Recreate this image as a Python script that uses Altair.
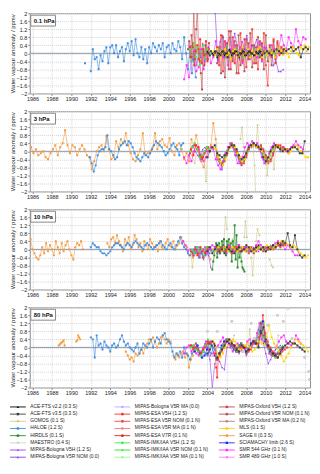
import altair as alt
import pandas as pd

# ---------------- legend / series definitions ----------------
KEYS = ["ACE22", "ACE35", "GOMOS", "HALOE", "HIRDLS", "MAESTRO", "BOL5H", "BOL5R", "BOLMA",
        "ESA5H", "ESA5R", "ESAMA", "ESA7R", "IMK5H", "IMK5R", "IMKMA", "OXF5H", "OXF5R", "OXFMA",
        "MLS", "SAGE", "SCIA", "SMR544", "SMR489"]
NAMES = ["ACE-FTS v2.2 (0.3 S)", "ACE-FTS v3.5 (0.3 S)", "GOMOS (0.1 S)", "HALOE (1.2 S)",
         "HIRDLS (0.1 S)", "MAESTRO (0.4 S)", "MIPAS-Bologna V5H (1.2 S)", "MIPAS-Bologna V5R NOM (0.0)",
         "MIPAS-Bologna V5R MA (0.0)", "MIPAS-ESA V5H (1.2 S)", "MIPAS-ESA V5R NOM (0.1 N)",
         "MIPAS-ESA V5R MA (0.1 N)", "MIPAS-ESA V7R (0.1 N)", "MIPAS-IMK/IAA V5H (1.2 S)",
         "MIPAS-IMK/IAA V5R NOM (0.1 N)", "MIPAS-IMK/IAA V5R MA (0.1 N)", "MIPAS-Oxford V5H (1.2 S)",
         "MIPAS-Oxford V5R NOM (0.1 N)", "MIPAS-Oxford V5R MA (0.2 N)", "MLS (0.1 S)", "SAGE II (0.3 S)",
         "SCIAMACHY limb (2.6 S)", "SMR 544 GHz (0.1 N)", "SMR 489 GHz (1.0 S)"]
COLORS = ["#000000", "#3a3a3a", "#d2c98e", "#3f8ee0", "#268a26", "#cfcfcf", "#a040f0", "#8a3cf0",
          "#c9a2ff", "#ff2a2a", "#ff3c3c", "#ff7070", "#e82020", "#3cf03c", "#2ee02e", "#8cff8c",
          "#c44848", "#b05454", "#c27a7a", "#ffd400", "#f59a3c", "#2a2ae0", "#ff2cff", "#ff7cff"]
SHAPES = ["triangle-up", "square", "circle", "square", "square", "circle", "triangle-up", "triangle-up",
          "circle", "square", "square", "circle", "square", "square", "triangle-up", "circle",
          "square", "square", "circle", "square", "square", "square", "square", "circle"]
FULL = dict(zip(KEYS, NAMES))

PANELS = ["0.1 hPa", "3 hPa", "10 hPa", "80 hPa"]
YEAR_TICKS = [1986, 1988, 1990, 1992, 1994, 1996, 1998, 2000, 2002, 2004, 2006, 2008, 2010, 2012, 2014]
Y_TICKS = [-2, -1.6, -1.2, -0.8, -0.4, 0, 0.4, 0.8, 1.2, 1.6, 2]

# ---------------- data: regular segments (panel, series, start year, step, values) ----------------
REG = [
    # ---- 0.1 hPa ----
    ("0.1 hPa", "HALOE", 1992.0, 0.2, [-0.9, 0.2, -0.3, -0.2, -0.8, -0.1, -0.4, 0.1, 0.3, -0.5, 0.3, 0.4, 0.0, 0.4, -0.2,
                                       0.1, 0.3, -0.4, 0.2, 0.5, 0.1, 0.6, -0.1, 0.7, 0.0, -0.2, 0.3, -0.3, 0.2, -0.5, 0.3,
                                       0.0, 0.5, 0.3, 0.1, 0.4, 0.2, 0.5, -0.2, 0.3, 0.4, 0.0, 0.5, 0.2, 0.1, 0.6, 0.3, -0.3,
                                       0.8, 0.0, -0.8, 0.2, -1.0, -0.3, -1.2]),
    ("0.1 hPa", "SMR544", 2001.6, 0.25, [-1.3, -0.6, -1.2, -0.4, 0.1, -0.9, -0.7, 0.2, -0.8, -0.3, 0.3, -0.5, -0.2, 0.6,
                                         -0.4, 0.3, -0.2, 0.5, -0.6, 0.2, -0.3, 0.4, -0.1, 0.3, -0.5, 0.2, 0.1, -0.3, 0.4,
                                         0.0, -0.2, 0.5, -0.4, 0.3, 0.1, -0.1, 0.4, 0.2, -0.2, 0.3, 0.9, 0.4, 0.2, 0.8, 0.5,
                                         0.3, 1.2, 0.6, 0.4, 0.8, 0.7]),
    ("0.1 hPa", "OXF5H", 2002.0, 0.12, [0.2, 0.6, -0.2, 0.9, 0.3, 2.3, -0.3, 1.2, 2.3, 0.2, -0.4, -1.0, -1.8, 0.1, -0.6,
                                        0.4, 0.0, -0.3, 0.5]),
    ("0.1 hPa", "OXF5R", 2005.0, 0.2, [-0.5, 0.3, -1.0, 0.8, -1.2, 0.5, -0.8, 1.1, -0.4, 0.6, -1.0, 0.9, -0.6, 0.2, -0.9,
                                       0.7, -0.3, 1.0, -0.7, 0.4, -0.5, 0.8, -0.2, 0.5, -0.8, 0.9, -0.4, 0.3, -0.6, 0.6,
                                       -0.3, 0.5, 0.1, 0.3, 0.0]),
    ("0.1 hPa", "BOL5H", 2002.3, 0.2, [0.4, -0.3, 0.2, -0.6, 0.1, -0.2, 0.5, -0.4, 0.0, 0.3]),
    ("0.1 hPa", "BOL5R", 2004.8, 0.25, [2.0, -0.3, 0.6, 0.9, -0.2, 0.5, 0.8, 0.0, 1.0, 0.4, -0.3, 0.6, 0.2, 0.9, -0.1, 0.4,
                                        0.3, 0.7, -0.2, 0.5, 0.1, 0.3, 0.0, 0.2, -0.6, -0.4, -0.9, -0.9, -0.8]),
    ("0.1 hPa", "ESA5H", 2002.2, 0.15, [0.3, -0.2, 0.5, -0.6, 0.1, 0.4, -0.3, 0.7, -0.5, 0.2, -0.1, 0.6, -0.4, 0.2]),
    ("0.1 hPa", "ESA5R", 2005.0, 0.2, [0.3, -0.6, 0.9, -0.9, 0.6, -0.2, 1.1, -0.8, 0.8, -0.5, 0.4, -1.0, 1.0, -0.4, 0.7,
                                       -0.7, 0.5, -0.2, 1.2, -0.5, 0.3, -0.8, 0.6, -0.3, 1.0, -0.6, -1.6, 0.4, -0.2, 0.7,
                                       -0.5, 0.6, -0.1, 0.3, 0.1]),
    ("0.1 hPa", "IMK5H", 2002.2, 0.2, [0.2, -0.4, 0.5, -0.2, 0.3, -0.6, 0.1, 0.4, -0.3, 0.2, 0.0]),
    ("0.1 hPa", "IMK5R", 2005.0, 0.25, [-0.2, 0.3, 0.1, -0.3, 0.4, 0.0, -0.2, 0.2, 0.3, -0.1, 0.1, -0.3, 0.2, 0.0, -0.2,
                                        0.3, 0.1, -0.1, 0.2, 0.0, -0.2, 0.1, 0.3, 0.0, -0.1, 0.2, 0.1, 0.0]),
    ("0.1 hPa", "MLS", 2004.6, 0.2, [0.1, -0.1, 0.2, 0.0, -0.2, 0.1, 0.2, -0.1, 0.0, -0.3, 0.1, 0.2, 0.0, -0.2, 0.1, 0.3,
                                     -0.1, 0.0, 0.2, -0.2, 0.1, 0.0, -0.1, 0.2, 0.3, -0.2, 0.0, 0.1, -0.1, 0.2, 0.0, 0.1,
                                     -0.2, 0.2, 0.3, 0.1, -0.1, 0.2, 0.0, -0.2, 0.1, 0.3, 0.2, 0.0, -0.1, 0.3, 0.2, 0.4,
                                     0.1, 0.3]),
    ("0.1 hPa", "ACE22", 2004.0, 0.25, [0.1, -0.1, 0.0, 0.1, -0.2, 0.0, 0.1, -0.1, 0.0, 0.2, -0.1, 0.0, 0.1, -0.2, 0.0,
                                        0.1, -0.1, 0.1, 0.0, -0.1, 0.1, 0.0, 0.1]),
    ("0.1 hPa", "ACE35", 2004.1, 0.25, [0.0, 0.1, -0.1, 0.1, 0.0, -0.1, 0.1, 0.0, -0.2, 0.1, 0.0, 0.1, -0.1, 0.0, 0.1,
                                        -0.1, 0.0, 0.1, 0.0, -0.1, 0.0, 0.1, -0.1, 0.0, 0.1, 0.0, -0.1, 0.1, 0.2, 0.1, 0.0,
                                        0.2, 0.1, 0.2, 0.3, 0.1, 0.2, 0.3, -0.2, 0.2, 0.3, 0.2]),
    # ---- 3 hPa ----
    ("3 hPa", "SAGE", 1985.6, 0.25, [0.25, 0.2, -0.1, 0.1, -0.2, -0.1, 0.0, -0.3, -0.4, -0.1, 0.1, 0.3, -0.2, 0.2, 0.4,
                                     1.05, 0.3, -0.1, 0.3, 0.2, -0.2, 0.1, 0.3, 0.1, -0.2, -0.3, -0.9, -0.5, 0.0, 0.2,
                                     0.3, 0.0, 0.75, 0.1, -0.4, -0.3, 0.5, 0.2, 0.6, 0.4, 0.9, 0.3, -0.1, -0.4, -0.5,
                                     -0.2, 0.1, 0.9, -0.2, -0.1, 0.0, 0.2, 0.9, 0.1, 0.5, 0.6, 0.3, 0.2, 0.65, 0.0, -0.2,
                                     0.3, 0.4, 0.1, -0.4, -0.1, -0.5, 0.6, 0.3, 0.8, 0.2, -0.5, -0.8, -0.3, 0.1, 0.3, 1.4,
                                     0.6, -0.3]),
    ("3 hPa", "HALOE", 1991.9, 0.2, [-0.3, -0.6, -1.0, -0.7, -0.2, 0.0, 0.1, 0.1, 0.2, 0.8, 0.1, 0.0, -0.2, -0.4, -0.3,
                                     0.1, 0.3, 0.4, 0.5, 0.3, 0.5, 0.4, 0.2, -0.1, -0.3, -0.4, -0.5, -0.3, -0.1, -0.2,
                                     -0.3, -0.1, 0.1, 0.3, 0.5, 0.4, 0.3, 0.2, 0.0, -0.2, -0.1, 0.1, 0.3, 0.4, 0.2, 0.1,
                                     -0.2, 0.3, 0.4]),
    ("3 hPa", "SMR544", 2001.6, 0.25, [-0.3, -0.6, -0.2, -0.5, 0.0, 0.3, 0.1, -0.2, -0.5, -0.3, 0.0, 0.2, 0.1, -0.4, -0.7,
                                       -0.9, -0.5, -0.1, 0.2, 0.4, 0.2, -0.2, -0.6, -0.6, -0.3, 0.2, 0.4, 0.3, 0.5, 0.3,
                                       0.4, 0.1, -0.3, -0.6, -0.5, -0.1, 0.2, 0.4, 0.3, 0.2, 0.1, 0.2, 0.0, -0.1, 0.2, 0.3,
                                       0.5, 0.3, 0.2, 0.1]),
    ("3 hPa", "OXF5H", 2002.2, 0.25, [-0.1, 0.2, 0.3, 0.1, -0.2, -0.4, -0.1, 0.2, 0.0]),
    ("3 hPa", "OXF5R", 2005.0, 0.25, [-0.2, -0.4, -0.6, -0.5, -0.2, 0.2, 0.4, 0.2, -0.1, -0.3, -0.7, -0.5, -0.3, 0.1, 0.3,
                                      0.4, 0.3, 0.2, 0.3, 0.1, -0.2, -0.5, -0.4, -0.1, 0.3, 0.2, 0.2, 0.1]),
    ("3 hPa", "BOL5H", 2002.5, 0.25, [0.3, 0.0, -0.2, -0.4, 0.1, 0.2, 0.0]),
    ("3 hPa", "BOL5R", 2005.0, 0.25, [-0.4, -0.6, -0.9, -0.3, 0.0, 0.2, 0.3, 0.1, -0.2, -0.5, -0.6, -0.3, 0.0, 0.3, 0.2,
                                      0.4, 0.2, 0.3, 0.0, -0.4, -0.6, -0.3, 0.1, 0.3, 0.2, 0.3, 0.0]),
    ("3 hPa", "ESA5H", 2002.3, 0.25, [0.1, -0.2, 0.3, 0.2, -0.3, -0.3, 0.0, 0.2]),
    ("3 hPa", "ESA5R", 2005.0, 0.25, [-0.3, -0.5, -0.7, -0.4, -0.1, 0.2, 0.3, 0.2, 0.0, -0.4, -0.6, -0.6, -0.2, 0.1, 0.3,
                                      0.3, 0.3, 0.2, 0.2, 0.0, -0.3, -0.6, -0.5, -0.2, 0.2, 0.3, 0.3, 0.2, 0.1, 0.1]),
    ("3 hPa", "IMK5H", 2002.2, 0.25, [0.0, 0.2, 0.4, 0.1, -0.3, -0.2, 0.0, 0.2, 0.1]),
    ("3 hPa", "IMK5R", 2005.0, 0.25, [-0.2, -0.5, -0.6, -0.3, 0.0, 0.2, 0.3, 0.2, -0.1, -0.4, -0.5, -0.4, 0.0, 0.2, 0.3,
                                      0.3, 0.3, 0.2, 0.1, -0.1, -0.4, -0.5, -0.2, 0.1, 0.3, 0.2, 0.1, 0.1]),
    ("3 hPa", "MLS", 2004.6, 0.25, [0.2, 0.1, -0.3, -0.5, -0.7, -0.4, -0.1, 0.2, 0.3, 0.2, -0.1, -0.3, -0.5, -0.4, -0.1,
                                    0.2, 0.3, 0.3, 0.2, 0.2, 0.0, -0.3, -0.6, -0.3, 0.0, 0.2, 0.3, 0.2, 0.1, 0.0, 0.1,
                                    -0.1, 0.0, 0.2, 0.3, 0.2, 0.0, -0.1, -0.3, -0.3]),
    ("3 hPa", "ACE35", 2004.0, 0.25, [-0.3, 0.0, 0.2, 0.3, -0.1, -0.2, -0.3, -0.2, -0.1, 0.2, 0.3, 0.3, 0.1, -0.2, -0.4,
                                      -0.3, -0.1, 0.2, 0.3, 0.4, 0.3, 0.2, 0.1, -0.3, -0.5, -0.3, 0.0, 0.2, 0.3, 0.2, 0.1,
                                      0.0, 0.1, 0.0, 0.1, 0.2, 0.2, 0.1, -0.1, -0.1, 0.5]),
    # ---- 10 hPa ----
    ("10 hPa", "SAGE", 1985.6, 0.2, [0.4, 0.5, 0.0, -0.2, -0.4, -0.5, -0.3, 0.1, -0.2, 0.3, -0.1, 0.2, 0.0, -0.3, 0.4,
                                     0.1, -0.2, 0.3, -0.1, 0.2, 0.4, 0.0, -0.3, -0.5, 0.1, 0.3, 0.2, 0.4, 0.0]),
    ("10 hPa", "SAGE", 1993.7, 0.2, [0.3, 0.1, 0.5, 0.6, 0.3, 0.7, 0.4, 0.2, -0.1, 0.5, 0.3, 0.6, 0.0, 0.2, 0.7, 0.5, 0.1,
                                     0.3, -0.1, 0.4, 0.2, 0.0, 0.5, 0.3, 0.1, 0.2, -0.1, 0.4, 0.1, 0.0, 0.3, 0.5, 0.2,
                                     0.1, 0.4, 0.0, 0.2, 0.3, 0.6, 0.4, 0.2, 0.1]),
    ("10 hPa", "SAGE", 2002.1, 0.2, [-0.3, -0.2, -0.4, 0.0, -0.3, -0.2, 0.1, -0.4, -0.3, 0.0, -0.2, -0.5]),
    ("10 hPa", "HALOE", 1992.0, 0.2, [0.1, 0.3, 0.2, 0.1, 0.1, -0.1, -0.2, -0.2, -0.3, -0.2, -0.1, 0.1, 0.2, 0.3, 0.3, 0.2,
                                      0.1, 0.0, 0.2, 0.3, 0.2, 0.1, 0.3, 0.4, 0.3, 0.2, 0.1, 0.0, 0.2, 0.3, 0.2, 0.1, 0.0,
                                      0.1, 0.2, 0.3, 0.4, 0.2, 0.1, 0.0, 0.2, 0.3, 0.1, 0.0, 0.2, 0.4, 0.6, 0.3, 0.1,
                                      0.0, -0.2, -0.3, -0.1, 0.0, -0.2, 0.1, -0.4, -0.2, 0.0, -0.3, 0.1, -0.2, 0.0, -0.1,
                                      0.1, -0.2, 0.0, 0.0]),
    ("10 hPa", "HIRDLS", 2004.5, 0.1, [-1.0, -0.6, -0.3, 0.1, 0.3, -0.4, 0.0, 0.3, -0.2, 0.1, 0.4, 0.2, 0.5, 0.0, -0.3,
                                       0.4, 0.2, 0.5, -0.1, 0.3, -0.6, 0.4, 0.1, 1.2, -0.5, 0.7, -0.9, 0.2, -0.4, 0.0,
                                       -0.6, -0.9, -1.0, -1.1]),
    ("10 hPa", "SMR544", 2001.5, 0.25, [0.4, 0.2, -0.1, 0.0, -0.2, 0.1, -0.1, -0.2, 0.0, 0.1, -0.2, 0.0, 0.2, 0.1, -0.1,
                                        0.0, 0.1, -0.1, 0.1, 0.2, 0.0, -0.1, 0.1, 0.2, 0.0, 0.1, 0.1, 0.0, -0.1, 0.0,
                                        0.2, 0.4, 0.2, 0.1, 0.0, 0.0, 0.1, 0.2, 0.3, 0.4, 0.3, 0.2, 0.0, 0.2, 0.1, -0.1,
                                        -0.3, -0.3]),
    ("10 hPa", "OXF5H", 2002.3, 0.25, [-0.1, -0.3, 0.1, -0.2, 0.0, -0.4, -0.1, 0.1]),
    ("10 hPa", "OXF5R", 2005.0, 0.25, [0.1, -0.2, 0.0, 0.1, -0.1, 0.0, -0.2, 0.1, 0.0, -0.1, 0.1, 0.0, -0.1, 0.0, 0.1,
                                       -0.2, 0.0, 0.1, 0.0, -0.1, 0.1, 0.0, 0.1, 0.2, 0.1, 0.2, 0.3, 0.2]),
    ("10 hPa", "BOL5H", 2002.6, 0.25, [-0.3, 0.0, -0.4, -0.1, -0.5, -0.2, -0.3, -0.9]),
    ("10 hPa", "BOL5R", 2005.0, 0.25, [0.0, -0.1, 0.1, 0.0, -0.2, 0.1, 0.0, -0.1, 0.1, 0.0, -0.1, 0.0, 0.1, -0.1, 0.0,
                                       0.1, 0.0, -0.1, 0.1, 0.0, 0.1, 0.0, 0.2, 0.1, 0.2, 0.3, 0.2, 0.3]),
    ("10 hPa", "ESA5H", 2002.5, 0.25, [-0.2, 0.0, -0.3, 0.1, -0.1, -0.2, 0.0]),
    ("10 hPa", "ESA5R", 2005.0, 0.25, [-0.1, 0.0, 0.1, -0.1, 0.0, 0.1, -0.2, 0.0, 0.1, 0.0, -0.1, 0.1, 0.0, -0.2, 0.1,
                                       0.0, -0.1, 0.1, 0.0, 0.1, -0.1, 0.0, 0.1, 0.0, 0.1, 0.2, 0.1, 0.3, 0.2]),
    ("10 hPa", "IMK5H", 2002.4, 0.25, [0.0, -0.2, 0.1, -0.1, 0.0, -0.3, 0.1]),
    ("10 hPa", "IMK5R", 2005.0, 0.25, [0.0, 0.1, -0.1, 0.0, 0.1, -0.1, 0.0, 0.1, -0.1, 0.0, 0.1, 0.0, -0.1, 0.1, 0.0,
                                       -0.1, 0.0, 0.1, 0.0, 0.1, 0.0, 0.1, 0.2, 0.1, 0.2, 0.3, 0.2, 0.3]),
    ("10 hPa", "MLS", 2004.6, 0.25, [0.0, -0.1, 0.1, -0.1, 0.0, 0.1, -0.1, 0.0, 0.1, 0.0, -0.1, 0.0, 0.1, -0.1, 0.0,
                                     0.1, 0.0, -0.1, 0.0, 0.1, 0.0, 0.1, 0.2, 0.1, 0.0, 0.1, 0.2, 0.3, 0.4, 0.4, 0.3,
                                     0.2, 0.1, 0.2, 0.1, -0.1, -0.2, -0.3, -0.4, -0.3]),
    ("10 hPa", "ACE35", 2004.0, 0.25, [-0.1, 0.1, -0.2, 0.0, 0.2, -0.1, 0.0, -0.2, 0.1, 0.0, -0.1, -0.2, 0.0, 0.1, -0.1,
                                       0.0, 0.2, 0.1, -0.1, 0.0, 0.1, 0.2, 0.0, 0.1, -0.1, 0.1, 0.0, 0.2, 0.1, 0.3, 0.2,
                                       0.4, 0.3, 0.8, 0.2, 0.1, 0.7, 0.0, -0.3, -0.4, -0.3]),
    # ---- 80 hPa ----
    ("80 hPa", "SAGE", 1988.7, 0.1, [0.1, 0.15, 0.2, 0.25, 0.3, 0.35, 0.1]),
    ("80 hPa", "SAGE", 1990.5, 0.1, [0.3, 0.35, 0.6, 0.5, 0.4]),
    ("80 hPa", "SAGE", 1995.6, 0.2, [-0.2, -0.4, -0.6, -0.5, -0.7, -0.3, -0.4, -0.3, -0.1, -0.3, 0.0, 0.2, 0.4, 0.3, 0.5,
                                     0.3, 0.0, 0.2, 0.5, 0.6, 0.4, 0.2, 0.4, 0.3]),
    ("80 hPa", "SAGE", 2000.5, 0.2, [-0.4, -0.6, -0.3, -0.5, -0.3, -0.2, -0.5, -0.3, -1.0, -0.6, -0.4]),
    ("80 hPa", "HALOE", 1992.0, 0.2, [0.5, 0.4, -0.5, 0.6, 0.1, 0.2, -0.1, 0.3, 0.1, 0.0, -0.2, 0.1, 0.2, 0.0, 0.1, 0.4,
                                      0.6, 0.3, 0.1, 0.2, 0.0, -0.1, -0.2, 0.0, 0.2, -0.3, -0.1, 0.2, 0.1, 0.0, 0.2, 0.4,
                                      0.0, 0.3, 0.5, 0.4, 0.2, 0.6, 0.7, 0.4, 0.3, 0.2, -0.2, -0.5, -0.3, -0.4, -0.2,
                                      -0.5, 0.0, -0.3, -0.4, -0.6, -0.3, -0.2, 0.0, 0.1, -0.3, -0.5, -0.2, -0.3, -0.4,
                                      -0.2, -0.3, 0.0, -0.1]),
    ("80 hPa", "SMR544", 2001.6, 0.25, [-0.3, 0.0, 0.1, -0.2, 0.1, -0.3, -0.4, -0.2, 0.0, 0.3, -0.1, -0.4, -0.3, 0.0, 0.1,
                                        0.3, 0.5, 0.2, 0.3, 0.0, -0.2, 0.1, 0.2, 0.0, -0.2, -0.1, 0.3, 0.4, 0.1, 0.2, 0.7,
                                        1.2, 0.4, 0.3, 0.1, -0.3, -0.4, -0.3, 0.0, 0.3, 0.5, 0.6, 0.3, 0.2, 0.1, 0.2,
                                        0.6, 0.4, 0.2]),
    ("80 hPa", "SCIA", 2002.7, 0.25, [-0.2, 0.1, -0.3, -0.5, -0.4, -0.1, 0.2, 0.1, -0.4, -0.6, -0.3, 0.1, 0.3, 0.4, 0.2,
                                      0.1, -0.1, -0.2, 0.1, 0.2, 0.0, -0.2, -0.1, 0.2, 0.3, 0.2, 0.1, 0.8, 1.3, 0.3, 0.1,
                                      -0.2, -0.3, -0.4, -0.3, -0.2, -0.1]),
    ("80 hPa", "OXF5H", 2002.3, 0.25, [0.1, 0.0, 0.2, -0.1, -0.3, -0.2, 0.0, 0.2, 0.3]),
    ("80 hPa", "OXF5R", 2005.0, 0.25, [-0.6, -0.4, -0.1, 0.2, 0.4, 0.3, 0.1, 0.0, -0.2, 0.0, 0.2, 0.0, -0.3, -0.1, 0.2,
                                       0.3, 0.2, 0.5, 1.2, 0.6, 0.2, 0.0, -0.3, -0.4, -0.5, -0.3, -0.1, 0.0]),
    ("80 hPa", "BOL5H", 2002.5, 0.25, [0.1, 0.0, -0.2, -0.3, -0.1, 0.2, 0.0, -0.6, -2.0, -0.8]),
    ("80 hPa", "BOL5R", 2005.0, 0.25, [-0.5, -0.7, -1.0, -1.1, 0.0, 0.3, 0.2, 0.1, -0.2, -0.3, -0.1, 0.0, -0.4, -0.2, 0.2,
                                       0.4, 0.3, 0.9, 1.2, 0.2, -0.3, -0.8, -0.6, -0.3, -0.1, 0.0, 0.1]),
    ("80 hPa", "ESA5H", 2002.3, 0.25, [0.1, -0.1, 0.0, -0.2, -0.3, -0.1, 0.1, 0.3, 0.2]),
    ("80 hPa", "ESA5H", 2004.7, 0.1, [0.2, -0.3, -1.0, -1.5, -0.6, -0.3]),
    ("80 hPa", "ESA5R", 2005.2, 0.25, [-0.4, -0.2, 0.0, 0.3, 0.4, 0.3, 0.1, 0.0, -0.2, 0.0, 0.1, 0.0, -0.2, -0.1, 0.2,
                                       0.3, 0.2, 0.6, 1.6, 0.7, 0.3, 0.0, -0.2, -0.3, -0.5, -0.3, -0.2, -0.1, 0.0]),
    ("80 hPa", "IMK5H", 2002.3, 0.25, [0.0, 0.1, -0.1, -0.2, -0.4, -0.2, 0.1, 0.4, 0.0]),
    ("80 hPa", "IMK5R", 2005.0, 0.25, [-0.4, -0.3, 0.0, 0.2, 0.4, 0.3, 0.2, -0.1, -0.2, 0.0, 0.2, 0.1, -0.2, 0.0, 0.2,
                                       0.3, 0.3, 0.7, 1.3, 0.5, 0.2, -0.1, -0.3, -0.4, -0.5, -0.2, 0.0, 0.1]),
    ("80 hPa", "MLS", 2004.6, 0.25, [0.3, 0.0, -0.4, -0.5, -0.3, 0.0, 0.1, 0.3, 0.4, 0.3, 0.1, -0.1, -0.1, 0.1, 0.2, 0.0,
                                     -0.2, -0.1, 0.1, 0.3, 0.2, 0.1, 0.5, 1.1, 0.5, 0.2, 0.0, -0.2, -0.4, -0.7, -0.5,
                                     -0.3, 0.0, 0.2, 0.4, 0.3, 0.2, 0.1, 0.0, -0.2]),
    ("80 hPa", "ACE35", 2004.0, 0.25, [-0.3, -0.1, 0.3, 0.1, -0.5, -0.3, -0.1, 0.1, 0.3, 0.4, 0.2, 0.1, -0.1, -0.2, 0.1,
                                       0.0, -0.2, -0.1, 0.2, 0.3, 0.2, 0.0, 0.7, 1.0, 0.4, 0.1, -0.1, -0.3, -0.4, -0.5,
                                       -0.3, 0.0, 0.1, 0.2, 0.3, 0.2, 0.2, 0.1, 0.0, -0.1, -0.2]),
]

# ---------------- data: irregular segments (panel, series, years, values) ----------------
PTS = [
    ("0.1 hPa", "HALOE", [1991.4], [-0.5]),
    ("3 hPa", "GOMOS", [2002.4, 2002.7, 2002.9], [-0.2, -0.6, 0.2]),
    ("3 hPa", "GOMOS", [2003.6, 2003.7, 2003.85, 2004.0], [-0.1, -0.7, -1.5, -0.3]),
    ("3 hPa", "GOMOS", [2007.4, 2007.55, 2007.7], [0.6, 1.2, 0.2]),
    ("3 hPa", "GOMOS", [2008.7, 2008.85, 2008.95], [0.2, -0.7, -2.0]),
    ("3 hPa", "GOMOS", [2009.0, 2009.15, 2009.3], [0.3, 1.3, 0.1]),
    ("3 hPa", "GOMOS", [2010.0, 2010.15, 2010.3], [0.0, -1.2, -0.2]),
    ("3 hPa", "GOMOS", [2010.7, 2010.85, 2011.0], [-0.2, -0.9, 0.1]),
    ("10 hPa", "GOMOS", [2002.3, 2002.45, 2002.6], [-0.2, -0.9, -0.3]),
    ("10 hPa", "GOMOS", [2005.7, 2005.85, 2006.0], [0.5, 1.6, 1.0]),
    ("10 hPa", "GOMOS", [2006.6, 2006.8], [0.5, 0.4]),
    ("10 hPa", "GOMOS", [2007.8, 2007.9, 2008.05], [0.6, 1.4, 0.6]),
    ("10 hPa", "GOMOS", [2008.5, 2008.65, 2008.8], [-0.4, -1.3, -0.2]),
    ("10 hPa", "GOMOS", [2009.0, 2009.15, 2009.35], [0.4, 1.0, 0.7]),
    ("10 hPa", "GOMOS", [2010.4, 2010.6, 2010.75], [-0.5, -0.8, -0.9]),
    ("80 hPa", "GOMOS", [2006.6, 2006.75], [0.3, 0.6]),
    ("80 hPa", "GOMOS", [2008.2, 2008.35, 2008.5], [0.1, 0.9, 0.2]),
    ("80 hPa", "GOMOS", [2009.6, 2009.8, 2010.0], [0.3, 1.3, 0.4]),
    ("80 hPa", "GOMOS", [2011.1, 2011.3], [0.1, 0.6]),
    ("80 hPa", "MAESTRO", [2004.0, 2004.5, 2005.0, 2006.5, 2007.7, 2008.5, 2008.8, 2010.2, 2011.2, 2011.8, 2012.3,
                           2012.7, 2014.0, 2014.4, 2014.5],
     [0.8, -0.4, 0.8, 1.3, -0.2, 1.2, 0.45, 1.1, 1.6, 1.3, 1.95, 0.45, -0.5, -1.2, -1.6]),
]

DRAW_ORDER = ["SAGE", "HALOE", "GOMOS", "MAESTRO", "HIRDLS", "SMR489", "SMR544", "SCIA", "OXF5H", "OXF5R",
              "OXFMA", "BOL5H", "BOL5R", "BOLMA", "ESA5H", "ESA5R", "ESAMA", "ESA7R", "IMK5H", "IMK5R", "IMKMA",
              "MLS", "ACE22", "ACE35"]

rows = []
seg = 0
for p, k, start, step, vals in REG:
    for i, v in enumerate(vals):
        rows.append({"panel": p, "key": k, "series": FULL[k], "seg": seg, "t": round(start + i * step, 3), "v": v})
    seg += 1
for p, k, ts, vals in PTS:
    for t, v in zip(ts, vals):
        rows.append({"panel": p, "key": k, "series": FULL[k], "seg": seg, "t": t, "v": v})
    seg += 1
df = pd.DataFrame(rows)
df["ord"] = df["key"].map({k: i for i, k in enumerate(DRAW_ORDER)})
df = df.sort_values(["ord", "seg", "t"]).reset_index(drop=True)

FONT = "Liberation Sans"
COLOR = alt.Color("series:N", scale=alt.Scale(domain=NAMES, range=COLORS), legend=None)
SHAPE = alt.Shape("series:N", scale=alt.Scale(domain=NAMES, range=SHAPES), legend=None)
XS = alt.Scale(domain=[1985.72, 2014.55], nice=False, zero=False)
YS = alt.Scale(domain=[-2, 2], nice=False)
XAX = alt.Axis(values=YEAR_TICKS, format="d", title=None, labelFontSize=5.5, labelColor="#222",
               tickSize=2, labelPadding=1, grid=True, gridColor="#d4d4d4", gridDash=[1, 1],
               domain=False, tickColor="#888", labelFont=FONT, labelOverlap=False, minExtent=0)
YAX = alt.Axis(values=Y_TICKS, format=".1~f", title="Water vapour anomaly / ppmv", titleFontSize=6,
               titleFontWeight="normal", titleColor="#222", titlePadding=1, labelFontSize=5.5,
               labelColor="#222", tickSize=2, labelPadding=1, grid=True, gridColor="#d4d4d4",
               gridDash=[1, 1], domain=False, tickColor="#888", labelFont=FONT, titleFont=FONT,
               labelOverlap=False, labelFlush=False, minExtent=0)


def panel(label):
    d = df[df["panel"] == label]
    X = alt.X("t:Q", scale=XS, axis=XAX)
    Y = alt.Y("v:Q", scale=YS, axis=YAX)
    base = alt.Chart(d)
    zero = alt.Chart(pd.DataFrame({"z": [0]})).mark_rule(color="#8a97a8", strokeWidth=1).encode(
        y=alt.Y("z:Q", scale=YS, axis=YAX))
    lines = base.transform_filter(alt.datum.key != "MAESTRO").mark_line(
        strokeWidth=0.6, clip=True).encode(x=X, y=Y, color=COLOR, detail="seg:N")
    pts = base.transform_filter(alt.datum.key != "MAESTRO").mark_point(
        filled=True, size=4, clip=True, opacity=1).encode(x=X, y=Y, color=COLOR, shape=SHAPE)
    mae = base.transform_filter(alt.datum.key == "MAESTRO").mark_point(
        filled=True, size=10, clip=True, opacity=1, shape="circle").encode(x=X, y=Y, color=COLOR)
    lab = alt.Chart(pd.DataFrame({"label": [label]}))
    box = lab.mark_rect(fill="white", stroke="#888", strokeWidth=1).encode(
        x=alt.value(1), x2=alt.value(26), y=alt.value(2), y2=alt.value(13))
    txt = lab.mark_text(fontSize=6, fontWeight="bold", align="left", baseline="middle", font=FONT,
                        color="#111").encode(x=alt.value(4), y=alt.value(8), text="label:N")
    return alt.layer(zero, lines, pts, mae, box, txt).properties(width=283, height=81)


leg = pd.DataFrame({"series": NAMES,
                    "col": [i // 8 for i in range(len(NAMES))],
                    "row": [i % 8 for i in range(len(NAMES))]})
LX = alt.Scale(domain=[-40, 300], range=[-40, 300], zero=False, nice=False)
LY = alt.Scale(domain=[-0.5, 7.5], reverse=True, nice=False, zero=False)
lb = alt.Chart(leg).transform_calculate(
    x0="datum.col * 105.5 - 20", x1="datum.col * 105.5 - 4", xm="datum.col * 105.5 - 12",
    xt="datum.col * 105.5 + 0.5")
lrule = lb.mark_rule(strokeWidth=0.9).encode(x=alt.X("x0:Q", scale=LX, axis=None), x2="x1:Q",
                                            y=alt.Y("row:Q", scale=LY, axis=None), color=COLOR)
lpt = lb.mark_point(filled=True, size=6, opacity=1).encode(x=alt.X("xm:Q", scale=LX, axis=None),
                                                           y=alt.Y("row:Q", scale=LY, axis=None),
                                                           color=COLOR, shape=SHAPE)
ltxt = lb.mark_text(align="left", baseline="middle", fontSize=4.9, font=FONT, color="#222").encode(
    x=alt.X("xt:Q", scale=LX, axis=None), y=alt.Y("row:Q", scale=LY, axis=None), text="series:N")
legend = alt.layer(lrule, lpt, ltxt).properties(width=250, height=58, view=alt.ViewBackground(stroke="transparent"))

chart = alt.vconcat(*[panel(p) for p in PANELS], legend, spacing=6).resolve_scale(
    color="shared", shape="shared").properties(padding=0).configure_view(stroke="#8c8c8c", strokeWidth=1)

chart.save("out.html", embed_options={"renderer": "svg", "actions": False})
